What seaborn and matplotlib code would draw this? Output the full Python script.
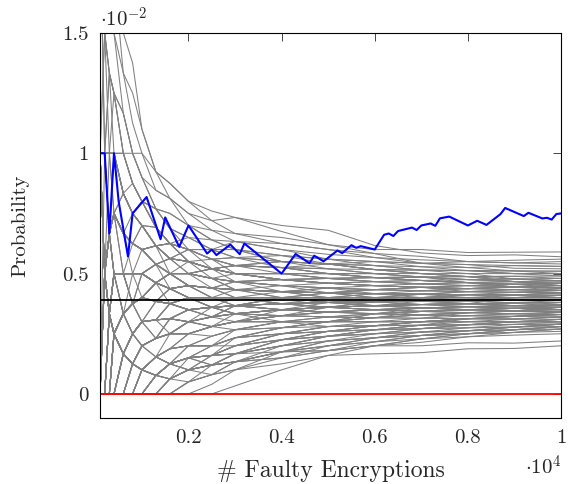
import numpy as np
import pandas as pd
import seaborn as sns
import matplotlib.pyplot as plt

# checkpoints (number of faulty encryptions) for the wrong key candidates
gray_n = [100, 200, 300, 400, 600, 800, 1000, 1300, 1600, 2000, 2500, 3000,
          4000, 5000, 6000, 7000, 8000, 9000, 10000]

# hit counts of each wrong key candidate at the checkpoints
gray_counts = [
    [3, 4, 6, 7, 9, 11, 11, 12, 14, 16, 18, 22, 27, 31, 35, 38, 43, 47, 52],
    [1, 3, 5, 6, 8, 9, 10, 12, 14, 16, 19, 22, 28, 34, 37, 41, 46, 52, 57],
    [2, 2, 3, 5, 7, 8, 9, 11, 13, 15, 18, 20, 26, 31, 36, 42, 47, 53, 59],
    [0, 2, 4, 5, 6, 8, 10, 11, 13, 15, 17, 20, 25, 30, 35, 40, 44, 49, 54],
    [1, 2, 3, 4, 6, 7, 8, 10, 12, 14, 17, 19, 24, 29, 34, 39, 44, 50, 56],
    [0, 0, 0, 0, 0, 0, 0, 0, 0, 1, 2, 3, 5, 8, 10, 12, 15, 17, 20],
    [0, 0, 0, 0, 0, 0, 0, 0, 1, 2, 3, 5, 7, 9, 12, 14, 17, 19, 22],
    [0, 0, 0, 0, 0, 0, 0, 1, 1, 2, 4, 5, 8, 11, 14, 17, 20, 23, 26],
    [0, 0, 0, 0, 0, 0, 1, 1, 2, 3, 4, 6, 9, 12, 15, 18, 21, 24, 27],
    [0, 0, 0, 0, 0, 1, 1, 2, 2, 4, 5, 7, 10, 13, 16, 19, 22, 25, 28],
    [0, 0, 0, 0, 1, 1, 2, 3, 4, 5, 7, 9, 12, 15, 18, 21, 24, 27, 30],
    [0, 0, 0, 1, 1, 2, 2, 3, 4, 6, 7, 9, 13, 16, 19, 22, 25, 28, 31],
    [0, 0, 1, 1, 2, 2, 3, 4, 5, 6, 8, 10, 13, 16, 19, 23, 26, 29, 32],
    [0, 0, 0, 0, 1, 2, 3, 4, 5, 7, 9, 10, 14, 17, 20, 23, 27, 30, 33],
    [1, 1, 1, 2, 2, 3, 4, 5, 6, 7, 9, 11, 14, 18, 21, 24, 28, 31, 34],
    [0, 1, 1, 1, 2, 3, 3, 4, 6, 7, 9, 11, 15, 18, 21, 25, 28, 32, 35],
    [0, 0, 1, 2, 2, 3, 4, 5, 6, 8, 9, 11, 15, 18, 22, 25, 29, 32, 36],
    [0, 0, 0, 1, 1, 2, 3, 4, 6, 8, 10, 12, 15, 19, 22, 26, 30, 33, 37],
    [1, 1, 2, 2, 3, 3, 4, 5, 7, 8, 10, 12, 16, 19, 23, 27, 31, 34, 38],
    [0, 1, 1, 1, 2, 3, 4, 5, 6, 8, 10, 12, 16, 20, 24, 27, 31, 35, 39],
    [0, 0, 1, 1, 2, 3, 5, 6, 7, 8, 10, 12, 16, 20, 24, 28, 32, 36, 40],
    [1, 2, 2, 3, 3, 4, 5, 6, 7, 9, 11, 13, 17, 21, 25, 29, 33, 37, 41],
    [0, 0, 0, 1, 2, 3, 4, 6, 7, 9, 11, 13, 17, 21, 25, 29, 34, 38, 42],
    [0, 1, 2, 2, 3, 4, 5, 6, 7, 9, 11, 13, 18, 22, 26, 30, 34, 39, 43],
    [1, 1, 1, 2, 3, 3, 4, 6, 7, 9, 11, 14, 18, 22, 27, 31, 35, 40, 44],
    [0, 0, 1, 2, 3, 4, 5, 7, 8, 10, 12, 14, 18, 23, 27, 32, 36, 41, 45],
    [0, 1, 1, 2, 3, 4, 5, 6, 8, 10, 12, 14, 19, 23, 28, 32, 37, 41, 46],
    [0, 0, 1, 1, 2, 4, 5, 6, 8, 10, 12, 15, 19, 24, 28, 33, 38, 42, 47],
    [1, 1, 2, 3, 4, 5, 6, 7, 8, 10, 13, 15, 20, 24, 29, 34, 38, 43, 48],
    [0, 1, 2, 3, 4, 5, 6, 7, 9, 11, 13, 15, 20, 25, 29, 34, 39, 44, 49],
    [0, 0, 1, 2, 3, 4, 5, 7, 8, 10, 13, 15, 20, 25, 30, 35, 40, 45, 50],
    [1, 2, 2, 3, 4, 5, 6, 8, 9, 11, 13, 16, 21, 26, 31, 36, 41, 46, 51],
    [2, 3, 3, 4, 5, 6, 7, 8, 9, 10, 11, 13, 16, 19, 23, 27, 30, 33, 36],
    [1, 2, 4, 4, 5, 6, 7, 8, 8, 9, 10, 11, 14, 17, 20, 23, 26, 30, 33],
    [2, 3, 4, 5, 6, 7, 8, 9, 10, 11, 13, 14, 18, 21, 25, 29, 32, 36, 40],
    [1, 1, 2, 3, 4, 5, 6, 7, 7, 8, 9, 10, 12, 15, 18, 21, 24, 27, 30],
    [0, 1, 3, 4, 6, 7, 8, 9, 10, 11, 13, 15, 19, 23, 27, 31, 35, 40, 44],
    [1, 2, 3, 4, 5, 6, 8, 9, 10, 11, 12, 14, 17, 21, 24, 28, 31, 35, 38],
    [1, 2, 2, 3, 5, 6, 8, 10, 11, 13, 15, 17, 21, 25, 30, 34, 38, 43, 47],
    [0, 1, 2, 3, 4, 6, 7, 9, 10, 12, 14, 15, 19, 23, 27, 31, 34, 38, 42],
    [1, 2, 3, 3, 4, 5, 6, 7, 8, 9, 11, 12, 15, 18, 22, 25, 28, 32, 35],
    [0, 1, 1, 2, 3, 4, 5, 6, 6, 7, 8, 9, 12, 14, 17, 20, 23, 26, 29],
    [0, 0, 0, 0, 0, 0, 1, 2, 3, 5, 7, 10, 14, 18, 22, 26, 30, 36, 41],
    [0, 0, 0, 0, 0, 0, 0, 1, 2, 4, 6, 8, 12, 16, 20, 25, 29, 33, 37],
    [0, 0, 0, 0, 0, 0, 0, 0, 1, 3, 5, 8, 11, 15, 19, 23, 27, 30, 34],
    [0, 0, 0, 0, 0, 1, 2, 3, 4, 5, 7, 9, 13, 18, 22, 27, 31, 35, 39],
    [0, 0, 0, 0, 1, 1, 2, 3, 4, 6, 8, 11, 16, 21, 26, 31, 35, 40, 45],
    [0, 0, 0, 0, 0, 0, 0, 1, 2, 3, 5, 7, 10, 14, 18, 21, 25, 28, 32],
    [0, 0, 0, 0, 0, 0, 1, 1, 2, 3, 4, 6, 9, 13, 16, 20, 23, 27, 30],
    [0, 0, 0, 0, 0, 0, 0, 0, 1, 2, 4, 7, 11, 15, 20, 24, 28, 32, 36],
    [0, 0, 0, 1, 1, 2, 3, 4, 5, 7, 9, 11, 16, 20, 25, 30, 34, 38, 43],
    [0, 0, 1, 1, 1, 2, 2, 3, 4, 6, 8, 10, 14, 18, 22, 26, 30, 34, 38],
    [0, 0, 0, 0, 1, 2, 2, 3, 5, 7, 9, 11, 15, 19, 24, 28, 32, 36, 40],
    [0, 0, 0, 1, 1, 1, 2, 3, 4, 5, 7, 9, 13, 17, 20, 24, 28, 31, 35],
    [1, 1, 1, 1, 2, 2, 3, 4, 5, 7, 9, 11, 16, 20, 24, 29, 33, 37, 42],
    [0, 1, 1, 1, 2, 2, 3, 5, 6, 8, 10, 11, 15, 19, 23, 26, 30, 33, 37],
    [0, 0, 0, 1, 2, 3, 4, 5, 6, 8, 9, 11, 15, 19, 23, 27, 31, 35, 39],
    [0, 0, 0, 0, 1, 2, 2, 3, 4, 5, 7, 9, 13, 17, 21, 24, 28, 31, 34],
    [0, 0, 1, 1, 2, 3, 4, 5, 6, 8, 10, 12, 16, 20, 24, 29, 33, 37, 41],
    [0, 0, 0, 1, 2, 3, 4, 5, 7, 9, 11, 14, 19, 23, 28, 33, 37, 42, 46],
    [1, 1, 2, 2, 3, 3, 4, 5, 7, 9, 11, 13, 17, 22, 26, 31, 35, 40, 44],
    [1, 1, 1, 1, 1, 2, 3, 4, 5, 6, 8, 10, 14, 18, 21, 25, 29, 32, 36],
    [0, 0, 1, 2, 3, 3, 4, 6, 8, 10, 12, 14, 19, 24, 29, 34, 39, 44, 48],
    [0, 0, 0, 0, 0, 1, 2, 3, 4, 6, 8, 10, 14, 18, 23, 27, 31, 34, 38],
    [0, 0, 0, 0, 0, 0, 0, 1, 2, 2, 3, 4, 7, 10, 13, 16, 19, 22, 25],
    [0, 0, 0, 0, 0, 1, 1, 1, 2, 3, 4, 5, 8, 11, 14, 17, 20, 23, 27],
    [0, 0, 0, 1, 1, 1, 2, 2, 3, 4, 5, 7, 11, 14, 17, 20, 23, 26, 29],
    [0, 0, 0, 0, 0, 0, 1, 2, 2, 3, 4, 6, 10, 13, 16, 20, 24, 27, 31],
    [0, 0, 0, 0, 0, 0, 0, 0, 0, 1, 3, 5, 9, 13, 17, 21, 25, 29, 33],
    [2, 3, 4, 5, 7, 8, 9, 10, 11, 13, 15, 17, 22, 27, 31, 36, 41, 45, 50],
    [1, 2, 3, 4, 5, 7, 8, 10, 12, 14, 16, 18, 23, 28, 33, 38, 43, 48, 53],
    [3, 5, 6, 7, 8, 10, 11, 12, 13, 14, 16, 18, 22, 27, 31, 35, 39, 42, 45],
    [0, 1, 1, 1, 1, 2, 3, 3, 5, 6, 9, 10, 13, 17, 21, 24, 27, 31, 34],
    [1, 1, 1, 2, 3, 4, 4, 5, 6, 7, 8, 11, 15, 18, 22, 26, 29, 32, 37],
    [0, 0, 0, 0, 1, 1, 1, 2, 3, 5, 7, 8, 12, 15, 20, 23, 27, 31, 36],
    [0, 0, 1, 1, 2, 2, 3, 4, 4, 6, 8, 11, 15, 20, 24, 28, 32, 35, 39],
    [0, 1, 2, 2, 2, 3, 3, 4, 6, 8, 9, 11, 16, 19, 23, 28, 33, 36, 40],
    [1, 1, 1, 1, 2, 3, 4, 6, 7, 8, 10, 13, 17, 22, 25, 29, 34, 39, 43],
    [0, 0, 0, 0, 0, 0, 1, 2, 4, 5, 7, 9, 14, 19, 23, 28, 33, 37, 41],
    [0, 0, 1, 2, 3, 5, 6, 7, 8, 10, 12, 13, 17, 20, 24, 27, 31, 35, 39],
    [0, 0, 0, 1, 2, 2, 3, 3, 4, 6, 7, 9, 12, 16, 19, 24, 28, 32, 35],
    [1, 2, 2, 2, 3, 3, 4, 5, 6, 7, 9, 10, 14, 18, 23, 28, 32, 37, 42],
    [0, 0, 0, 0, 0, 1, 1, 2, 3, 4, 6, 8, 11, 15, 18, 22, 27, 31, 36],
    [0, 1, 1, 2, 3, 4, 5, 6, 8, 9, 10, 12, 16, 20, 23, 27, 30, 33, 37],
    [0, 0, 0, 0, 1, 2, 3, 5, 6, 8, 9, 12, 16, 19, 23, 27, 31, 36, 40],
    [1, 1, 2, 3, 3, 4, 5, 6, 7, 9, 11, 13, 16, 20, 25, 29, 33, 37, 40],
    [0, 0, 0, 1, 1, 1, 1, 2, 3, 4, 5, 7, 11, 15, 19, 23, 26, 29, 33],
    [0, 0, 0, 0, 0, 0, 0, 0, 0, 0, 1, 3, 7, 11, 15, 19, 23, 27, 31],
    [0, 0, 0, 0, 0, 0, 0, 0, 0, 1, 2, 4, 8, 12, 16, 20, 25, 29, 34],
    [0, 0, 0, 0, 0, 0, 0, 1, 2, 3, 4, 5, 9, 13, 17, 21, 24, 28, 32],
    [1, 1, 2, 3, 4, 5, 6, 7, 8, 9, 10, 12, 15, 19, 23, 26, 30, 34, 38],
    [0, 1, 2, 3, 4, 5, 7, 8, 10, 12, 14, 16, 21, 25, 29, 33, 37, 41, 45],
    [0, 0, 1, 1, 2, 3, 4, 6, 8, 10, 12, 14, 18, 22, 26, 30, 35, 40, 44],
    [1, 1, 1, 2, 3, 4, 5, 6, 7, 8, 10, 12, 16, 21, 26, 30, 35, 39, 43],
    [0, 0, 0, 1, 2, 3, 5, 6, 7, 9, 11, 13, 17, 21, 25, 28, 32, 36, 40],
    [2, 2, 3, 3, 4, 5, 6, 7, 8, 9, 11, 13, 17, 21, 24, 28, 32, 36, 41],
    [0, 1, 2, 3, 5, 6, 7, 9, 10, 12, 13, 15, 20, 24, 29, 33, 37, 41, 46],
    [1, 2, 3, 4, 5, 6, 7, 8, 9, 10, 12, 13, 17, 20, 24, 28, 31, 35, 39],
    [0, 0, 0, 0, 1, 1, 2, 3, 4, 5, 6, 8, 12, 15, 19, 22, 26, 30, 33],
    [0, 0, 0, 0, 0, 0, 0, 1, 1, 2, 3, 5, 8, 12, 16, 19, 23, 27, 30],
    [0, 0, 0, 0, 0, 0, 1, 1, 1, 2, 3, 4, 7, 10, 14, 17, 20, 24, 28],
    [0, 0, 0, 0, 0, 1, 1, 1, 2, 2, 3, 5, 8, 12, 15, 18, 21, 25, 29],
    [0, 0, 0, 0, 0, 0, 0, 0, 1, 1, 2, 4, 7, 11, 14, 18, 21, 24, 28],
    [0, 0, 0, 1, 1, 1, 1, 2, 2, 3, 4, 6, 9, 12, 15, 19, 22, 25, 29],
    [1, 1, 1, 1, 1, 1, 1, 2, 2, 3, 4, 5, 9, 12, 16, 19, 23, 27, 31],
    [0, 0, 0, 0, 1, 1, 1, 1, 2, 3, 4, 6, 10, 14, 17, 21, 25, 28, 32],
    [0, 1, 2, 2, 3, 4, 5, 6, 7, 9, 11, 12, 16, 20, 24, 28, 33, 37, 42],
    [1, 2, 3, 4, 5, 6, 7, 8, 9, 11, 13, 15, 19, 23, 27, 31, 36, 40, 45],
    [0, 0, 0, 1, 2, 3, 4, 5, 6, 8, 10, 12, 17, 21, 26, 31, 36, 41, 46],
    [0, 0, 1, 2, 3, 4, 5, 6, 8, 9, 11, 13, 17, 21, 25, 29, 33, 38, 43],
    [2, 4, 5, 6, 7, 8, 9, 10, 11, 12, 14, 16, 20, 24, 28, 32, 36, 40, 44],
    [1, 3, 4, 5, 6, 7, 8, 9, 10, 11, 13, 15, 19, 23, 27, 31, 35, 39, 43],
    [0, 1, 2, 4, 5, 6, 7, 8, 9, 11, 13, 15, 19, 24, 28, 32, 37, 42, 47],
    [1, 1, 2, 3, 4, 4, 5, 6, 7, 8, 10, 12, 16, 19, 22, 26, 30, 33, 37],
    [0, 0, 1, 1, 2, 3, 3, 4, 5, 6, 8, 10, 13, 17, 21, 25, 28, 32, 36],
    [0, 1, 1, 2, 2, 3, 4, 5, 6, 7, 9, 11, 14, 18, 21, 25, 29, 33, 38],
    [0, 0, 0, 0, 0, 1, 2, 3, 5, 6, 8, 10, 14, 17, 21, 25, 28, 32, 35],
    [0, 0, 0, 0, 1, 2, 3, 4, 5, 7, 8, 10, 14, 18, 22, 26, 29, 33, 37],
    [0, 0, 1, 1, 1, 2, 3, 4, 5, 7, 9, 11, 15, 19, 22, 26, 30, 34, 38],
    [1, 1, 1, 2, 2, 3, 4, 5, 6, 7, 9, 11, 14, 18, 22, 25, 29, 33, 36],
    [0, 0, 0, 1, 1, 2, 3, 4, 6, 7, 9, 11, 14, 17, 21, 24, 28, 31, 35],
    [0, 0, 0, 0, 1, 2, 3, 4, 5, 6, 7, 9, 13, 16, 20, 24, 27, 31, 34],
    [0, 1, 2, 3, 4, 5, 7, 8, 10, 12, 15, 18, 22, 26, 30, 34, 37, 40, 44],
    [1, 1, 2, 3, 4, 5, 6, 8, 10, 13, 16, 19, 24, 28, 32, 36, 40, 43, 47],
    [0, 0, 1, 2, 3, 4, 6, 8, 10, 12, 15, 19, 25, 30, 34, 38, 42, 46, 50],
    [1, 2, 2, 3, 4, 5, 6, 8, 9, 11, 14, 17, 23, 28, 33, 37, 41, 45, 49],
    [0, 1, 1, 2, 3, 4, 5, 7, 9, 12, 14, 17, 22, 27, 31, 35, 39, 43, 47],
    [0, 0, 1, 1, 2, 3, 4, 6, 8, 11, 13, 16, 21, 26, 30, 34, 38, 42, 46],
    [1, 1, 2, 2, 3, 4, 5, 7, 9, 11, 13, 16, 21, 25, 29, 33, 37, 41, 44],
    [0, 1, 2, 3, 4, 5, 6, 8, 9, 12, 15, 18, 23, 27, 32, 36, 41, 46, 51],
    [0, 0, 0, 1, 2, 3, 4, 6, 8, 10, 13, 16, 22, 27, 31, 35, 39, 42, 45],
    [0, 0, 1, 2, 3, 4, 5, 7, 8, 10, 13, 15, 20, 25, 29, 33, 37, 40, 43],
    [0, 0, 0, 0, 0, 0, 1, 1, 1, 2, 3, 4, 6, 9, 12, 16, 20, 24, 28],
    [0, 0, 0, 0, 0, 0, 0, 0, 1, 2, 2, 3, 6, 9, 13, 17, 21, 25, 29],
    [0, 0, 0, 0, 0, 1, 1, 2, 2, 3, 3, 4, 7, 10, 14, 18, 22, 26, 30],
    [0, 0, 0, 1, 1, 1, 1, 1, 2, 2, 3, 4, 6, 10, 13, 17, 21, 25, 29],
    [0, 0, 0, 0, 0, 0, 0, 1, 2, 3, 3, 4, 7, 9, 12, 15, 19, 23, 27],
    [0, 0, 0, 0, 1, 1, 1, 2, 3, 4, 5, 6, 10, 13, 17, 21, 25, 29, 33],
    [1, 1, 1, 1, 1, 1, 2, 2, 3, 4, 5, 7, 10, 14, 17, 21, 25, 29, 33],
    [0, 0, 0, 0, 0, 0, 0, 0, 0, 0, 0, 1, 4, 8, 12, 16, 20, 24, 28],
    [0, 1, 2, 3, 4, 5, 6, 8, 10, 12, 14, 16, 21, 27, 32, 37, 42, 48, 53],
    [0, 0, 1, 2, 3, 4, 5, 7, 9, 11, 13, 16, 22, 27, 33, 38, 44, 49, 55],
]

# correct key candidate (blue)
blue_n = [100, 200, 300, 400, 500, 700, 800, 1100, 1400, 1500, 1800, 2000,
          2400, 2500, 2600, 2900, 3100, 3200, 4000, 4300, 4600, 4700, 4900,
          5200, 5300, 5500, 5600, 5700, 6000, 6200, 6300, 6400, 6500, 6800,
          6900, 7000, 7200, 7300, 7400, 7600, 8000, 8200, 8400, 8700, 8800,
          9200, 9300, 9600, 9700, 9800, 9900, 10000]
blue_counts = [1, 2, 2, 4, 4, 4, 6, 9, 9, 11, 11, 14, 14, 15, 15, 18, 18, 20,
               20, 25, 25, 27, 27, 31, 31, 34, 34, 35, 36, 41, 42, 42, 44, 47,
               47, 49, 51, 51, 54, 56, 56, 59, 59, 65, 68, 68, 70, 70, 71, 71,
               74, 75]

uniform_level = 1 / 256

sns.set_style('white')
plt.rcParams['font.family'] = ['cmr10']
plt.rcParams['mathtext.fontset'] = 'cm'
plt.rcParams['axes.unicode_minus'] = False

rows = []
for k, counts in enumerate(gray_counts):
    for n, c in zip(gray_n, counts):
        rows.append({'line': k, 'n': n, 'p': c / n})
gray_df = pd.DataFrame(rows)
blue_df = pd.DataFrame({'n': blue_n, 'p': np.array(blue_counts) / np.array(blue_n)})

fig = plt.figure(figsize=(5.68, 4.84), dpi=100)
ax = fig.add_axes([0.1761, 0.1364, 0.8116, 0.7955])

sns.lineplot(data=gray_df, x='n', y='p', units='line', estimator=None,
             color='#808080', linewidth=0.75, ax=ax, legend=False)
sns.lineplot(data=blue_df, x='n', y='p', color='blue', linewidth=1.5, ax=ax)
ax.axhline(uniform_level, color='black', linewidth=1.3)
ax.axhline(0, color='red', linewidth=1.3)

ax.set_xlim(100, 10000)
ax.set_ylim(-0.001, 0.015)
ax.set_xticks([2000, 4000, 6000, 8000, 10000])
ax.set_xticklabels(['0.2', '0.4', '0.6', '0.8', '1'])
ax.set_yticks([0, 0.005, 0.01, 0.015])
ax.set_yticklabels(['0', '0.5', '1', '1.5'])
ax.tick_params(direction='in', top=True, right=True, length=6, width=0.6,
               labelsize=15, pad=8)
for s in ax.spines.values():
    s.set_color('black')
    s.set_linewidth(0.8)

ax.set_xlabel('# Faulty Encryptions', fontsize=17, labelpad=9)
ax.set_ylabel('Probability', fontsize=15, labelpad=24)
ax.text(0.0, 1.005, r'$\cdot 10^{-2}$', transform=ax.transAxes,
        ha='left', va='bottom', fontsize=15)
ax.text(1.0, -0.095, r'$\cdot 10^{4}$', transform=ax.transAxes,
        ha='right', va='top', fontsize=15)

fig.savefig('out.png', dpi=100)
